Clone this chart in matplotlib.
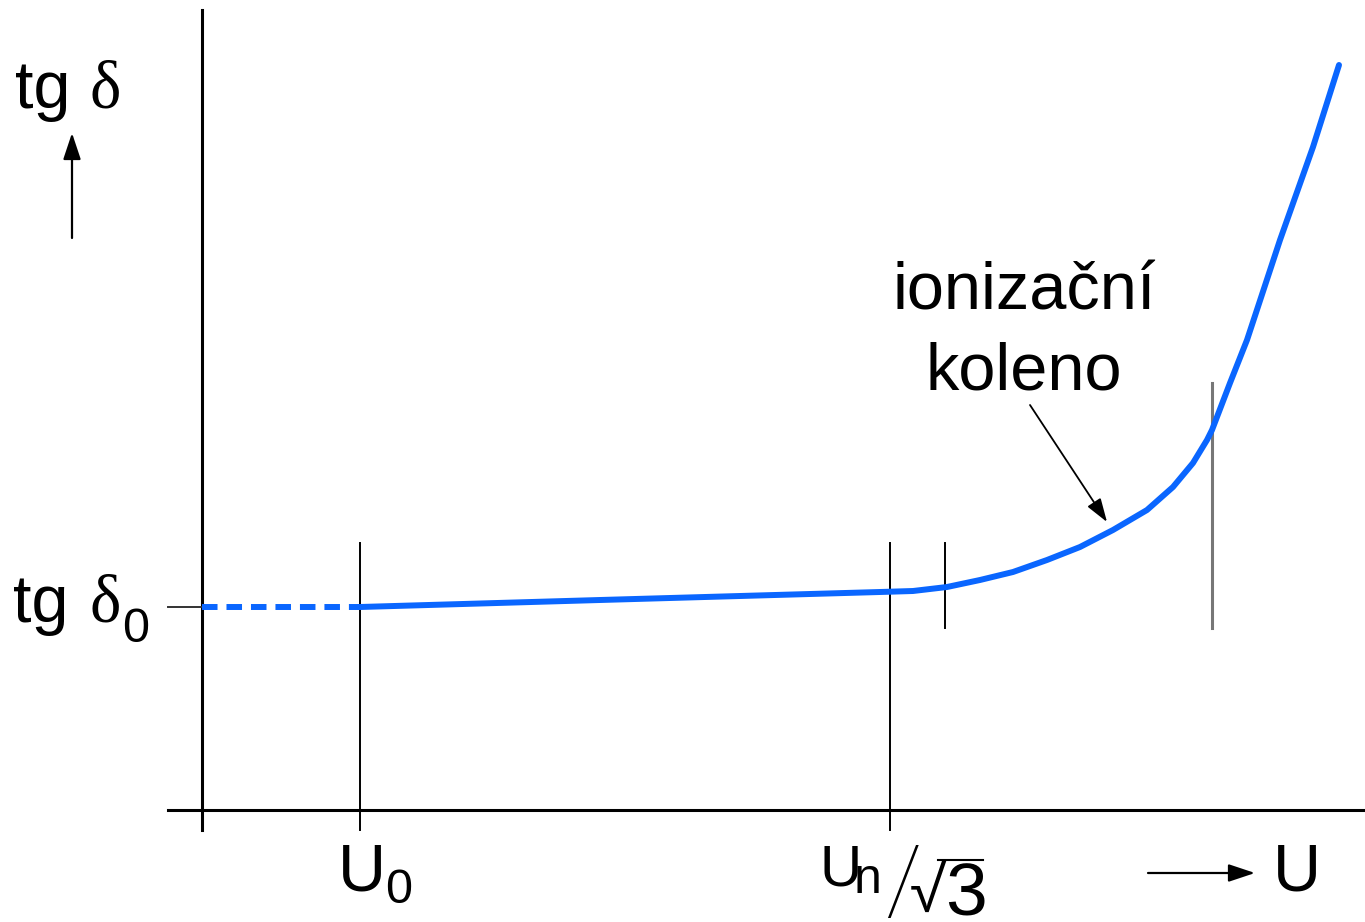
import matplotlib
matplotlib.use('Agg')
import matplotlib.pyplot as plt

# characteristic voltages (arbitrary units) and loss factor level
U0 = 1.58
Un_sqrt3 = 6.88
U_ion = 7.43
U_knee = 10.10
tg_delta0 = 2.03

# tg delta vs. voltage
U_curve = [1.58, 3.98, 6.78, 7.11, 7.45, 7.78, 8.11, 8.45, 8.78, 9.11,
           9.45, 9.71, 9.91, 10.05, 10.10, 10.28, 10.45, 10.78, 11.11, 11.37]
tg_curve = [2.03, 2.10, 2.18, 2.19, 2.23, 2.30, 2.38, 2.50, 2.63, 2.80,
            3.00, 3.23, 3.47, 3.70, 3.80, 4.27, 4.70, 5.70, 6.63, 7.45]

# extrapolation below U0
U_dash = [0, U0]
tg_dash = [tg_delta0, tg_delta0]

blue = '#0a66ff'
sans = 'Liberation Sans'
serif = 'Liberation Serif'
fs = 48
fs_sub = 35

fig = plt.figure(figsize=(13.65, 9.22), dpi=100)
ax = fig.add_axes([0, 0, 1, 1])
ax.set_xlim(-2.02, 11.63)
ax.set_ylim(-1.12, 8.10)
ax.axis('off')

# axes
ax.plot([0, 0], [-0.2, 8.0], color='black', lw=2.2)
ax.plot([-0.34, 11.63], [0, 0], color='black', lw=2.2)
ax.plot([-0.34, 0], [tg_delta0, tg_delta0], color='#333333', lw=1.4)

# marker lines
ax.plot([U0, U0], [-0.2, 2.67], color='black', lw=1.4)
ax.plot([Un_sqrt3, Un_sqrt3], [-0.2, 2.67], color='black', lw=1.4)
ax.plot([U_ion, U_ion], [1.82, 2.67], color='black', lw=1.4)
ax.plot([U_knee, U_knee], [1.82, 4.27], color='#777777', lw=2.2)

# curve
ax.plot(U_dash, tg_dash, color=blue, lw=4.3, dashes=(2.6, 1.5),
        solid_capstyle='butt')
ax.plot(U_curve, tg_curve, color=blue, lw=4.3, solid_joinstyle='round',
        solid_capstyle='round')

arrow = dict(arrowstyle='-|>,head_length=0.9,head_width=0.3',
             color='black', lw=1.6, mutation_scale=18, shrinkA=0, shrinkB=0)

# y label
ax.text(-1.87, 7.02, 'tg', fontsize=fs, family=sans, va='baseline')
ax.text(-1.12, 7.02, 'δ', fontsize=fs, family=serif, va='baseline')
ax.annotate('', xy=(-1.30, 6.77), xytext=(-1.30, 5.72), arrowprops=arrow)

# tg delta0 label
ax.text(-1.89, 1.88, 'tg', fontsize=fs, family=sans, va='baseline')
ax.text(-1.12, 1.88, 'δ', fontsize=fs, family=serif, va='baseline')
ax.text(-0.80, 1.68, '0', fontsize=fs_sub, family=sans, va='baseline')

# x labels
ax.text(1.36, -0.80, 'U', fontsize=fs, family=sans, va='baseline')
ax.text(1.83, -0.93, '0', fontsize=fs_sub, family=sans, va='baseline')

ax.text(6.17, -0.75, 'U', fontsize=42, family=sans, va='baseline')
ax.text(6.52, -0.83, 'n', fontsize=36, family=sans, va='baseline')
ax.text(6.83, -1.02, '/', fontsize=68, family='Roboto', fontweight=100,
        va='baseline')
ax.text(7.07, -1.02, '√', fontsize=52, family='Roboto', fontweight=300,
        va='baseline')
ax.text(7.43, -1.05, '3', fontsize=54, family=sans, va='baseline')
ax.plot([7.36, 7.81], [-0.50, -0.50], color='black', lw=1.5)

ax.annotate('', xy=(10.53, -0.63), xytext=(9.46, -0.63), arrowprops=arrow)
ax.text(10.71, -0.80, 'U', fontsize=fs, family=sans, va='baseline')

# knee annotation
ax.text(8.22, 5.00, 'ionizační', fontsize=fs, family=sans, ha='center',
        va='baseline')
ax.text(8.22, 4.20, 'koleno', fontsize=fs, family=sans, ha='center',
        va='baseline')
ax.annotate('', xy=(9.05, 2.88), xytext=(8.28, 4.05),
            arrowprops=dict(arrow, lw=1.3, mutation_scale=16))

fig.savefig('out.png', dpi=100)
